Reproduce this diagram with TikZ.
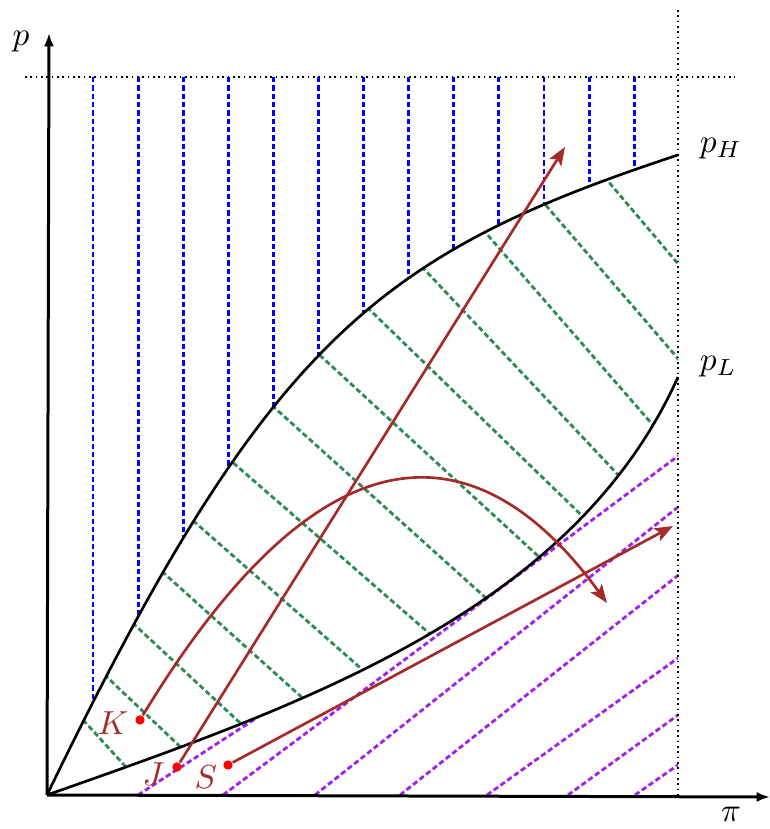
\documentclass[tikz,border=0pt]{standalone}
\usepackage{xcolor}
\usepackage{tikz}
\usetikzlibrary{arrows.meta, positioning, calc}
\definecolor{pathred}{HTML}{A52A2A}
\definecolor{hatchgreen}{HTML}{2E8B57}
\definecolor{hatchpurple}{HTML}{A020F0}
\tikzset{
  axis/.style={line width=0.9pt, -{Latex[length=4pt,width=3pt]}},
  price/.style={line width=0.8pt},
  guide/.style={line width=0.5pt, dash pattern=on 0.5pt off 1.1pt},
  hblue/.style={blue, line width=0.85pt, dash pattern=on 1.6pt off 0.9pt},
  hgreen/.style={hatchgreen, line width=0.85pt, dash pattern=on 1.6pt off 0.9pt},
  hpurple/.style={hatchpurple, line width=0.85pt, dash pattern=on 1.6pt off 0.9pt},
  traj/.style={pathred, line width=0.8pt, -{Stealth[length=5.5pt,width=4.2pt,inset=1.2pt]}},
  start/.style={circle, fill=red, inner sep=0pt, minimum size=2.8pt},
  tag/.style={pathred, inner sep=1pt},
}

\begin{document}
\begin{tikzpicture}[x=0.3pt, y=0.3pt]
\useasboundingbox (-47,-34) rectangle (722,795);
\coordinate (O) at (0,0);
\coordinate (ytip) at (2,762);
\coordinate (xtip) at (723,-2);
\coordinate (pHend) at (631,640);
\coordinate (pLend) at (631,418);

% hatching above p_H
\begin{scope}
  \clip (O) .. controls (220,455) and (331,541) .. (pHend) -- (631,718) -- (0,718) -- cycle;
  \foreach \i in {0,...,12}
    \draw[hblue] ({46+45.1*\i},718) -- ++(0,-720);
\end{scope}
% hatching between p_H and p_L
\begin{scope}
  \clip (O) .. controls (220,455) and (331,541) .. (pHend) -- (pLend) .. controls (525,182) and (250,88) .. (O);
  \foreach \x/\y/\s in {38/73/1.1, 63/115/0.95, 91/167/0.93, 120/219/0.9, 151/270/0.88, 191/328/0.87, 230/385/0.9,
      278/435/0.92, 326/482/0.97, 376/527/1.06, 438/563/1.15, 496/593/1.16, 560/615/1.18}
    \draw[hgreen] ({\x-30},{\y+30*\s}) -- ++(300,{-300*\s});
\end{scope}
% hatching below p_L
\begin{scope}
  \clip (O) .. controls (250,88) and (525,182) .. (pLend) -- (631,0) -- cycle;
  \foreach \b/\m/\l in {91/0.65/150, 176/0.745/500, 268/0.793/500, 353/0.79/500, 440/0.717/500, 521/0.727/500, 588/0.70/500}
    \draw[hpurple] (\b,0) -- ++(\l,{\l*\m});
\end{scope}

% guides
\coordinate (gl) at (-22,718);
\coordinate (gr) at (688,718);
\coordinate (gt) at (631,785);
\coordinate (gb) at (631,0);
\draw[guide] (gl) -- (gr);
\draw[guide] (gt) -- (gb);

% price curves
\draw[price] (O) .. controls (220,455) and (331,541) .. (pHend);
\draw[price] (O) .. controls (250,88) and (525,182) .. (pLend);
\node[right=3pt of pHend, yshift=2pt] (pH) {$p_H$};
\node[right=3pt of pLend, yshift=3pt] (pL) {$p_L$};

% axes
\draw[axis] (O) -- (ytip);
\draw[axis] (O) -- (xtip);
\node (plab) at (-26,753) {$p$};
\node (pilab) at (684,-19) {$\pi$};

% paths
\coordinate (Kend) at (560,192);
\coordinate (Jend) at (518,648);
\coordinate (Send) at (626,269);
\node[start] (K) at (93,75) {};
\node[start] (J) at (130,28) {};
\node[start] (S) at (181,30) {};
\draw[traj] (K) .. controls (290,400) and (445,350) .. (Kend);
\draw[traj] (J) -- (Jend);
\draw[traj] (S) -- (Send);
\node[tag, left=0.7pt of K, yshift=-1pt] (Klab) {$K$};
\node[tag, left=1pt of J, yshift=-2pt] (Jlab) {$J$};
\node[tag, left=0.5pt of S, yshift=-3.5pt] (Slab) {$S$};
\end{tikzpicture}
\end{document}
